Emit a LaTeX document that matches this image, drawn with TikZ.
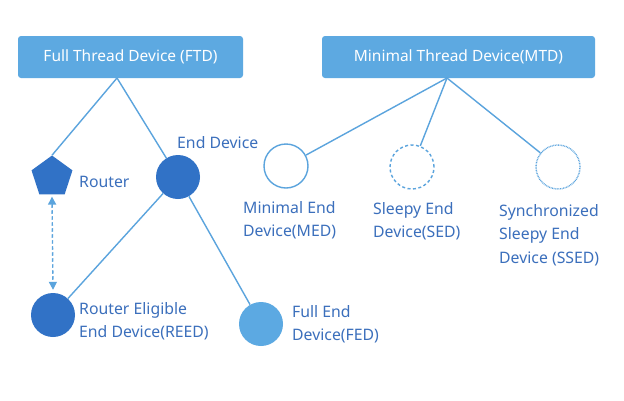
\documentclass[tikz,border=0pt]{standalone}
\usepackage{fontspec}
\setmainfont{Noto Sans}
\usetikzlibrary{shapes.geometric,arrows.meta}
\definecolor{boxblue}{HTML}{5DA9E1}
\definecolor{darkblue}{HTML}{3172C6}
\definecolor{lightfill}{HTML}{5CA9E2}
\definecolor{linec}{HTML}{5BA4DD}
\definecolor{txt}{HTML}{3B6FBC}
\tikzset{
  hdr/.style={fill=boxblue, text=white, rounded corners=3pt, inner sep=0pt, font=\fontsize{15.5}{18}\selectfont},
  conn/.style={draw=linec, line width=1.4pt},
  dev/.style={circle, minimum size=44pt, inner sep=0pt},
  lbl/.style={text=txt, anchor=west, align=left, inner sep=0pt, font=\fontsize{15.8}{23.5}\selectfont},
}
\begin{document}
\begin{tikzpicture}[x=1pt,y=-1pt]
\useasboundingbox (0,0) rectangle (624,400);
\fill[white] (0,0) rectangle (624,400);
% headers
\node[hdr, minimum width=225pt, minimum height=42pt] (ftd) at (130.5,57) {Full Thread Device (FTD)};
\node[hdr, minimum width=273pt, minimum height=42pt] (mtd) at (458.5,57) {Minimal Thread Device(MTD)};
\coordinate (ftdj) at (117,78);
\coordinate (mtdj) at (447,78);
% FTD devices
\node[regular polygon, regular polygon sides=5, fill=darkblue, minimum size=43pt, inner sep=0pt] (router) at (52,177) {};
\node[dev, fill=darkblue] (ed) at (178,177) {};
\node[dev, fill=darkblue] (reed) at (53,315) {};
\node[dev, fill=lightfill] (fed) at (261,324) {};
% MTD devices
\node[dev, draw=linec, line width=1.4pt, fill=white] (med) at (286,166) {};
\node[dev, draw=linec, line width=1.4pt, dash pattern=on 3pt off 2.5pt, fill=white] (sed) at (412,167) {};
\node[dev, draw=linec, line width=1.4pt, dash pattern=on 0.8pt off 0.8pt, fill=white] (ssed) at (558,167) {};
% connectors
\draw[conn] (ftdj) -- (router.north);
\draw[conn] (ftdj) -- (ed);
\draw[conn] (ed) -- (reed);
\draw[conn] (ed) -- (fed);
\draw[conn, dash pattern=on 3.5pt off 2.5pt, {Triangle[length=8pt,width=8pt]}-{Triangle[length=8pt,width=8pt]}] ([yshift=-2pt]router.south) -- ([yshift=3pt]reed.north);
\draw[conn] (mtdj) -- (med);
\draw[conn] (mtdj) -- (sed);
\draw[conn] (mtdj) -- (ssed);
% labels
\node[lbl] (lrouter) at (79,182) {Router};
\node[lbl] (led) at (177,143) {End Device};
\node[lbl] (lreed) at (79,321) {Router Eligible\\End Device(REED)};
\node[lbl] (lfed) at (292,324) {Full End\\Device(FED)};
\node[lbl] (lmed) at (243,220) {Minimal End\\Device(MED)};
\node[lbl] (lsed) at (373,221) {Sleepy End\\Device(SED)};
\node[lbl] (lssed) at (499,235) {Synchronized\\Sleepy End\\Device (SSED)};
\end{tikzpicture}
\end{document}
